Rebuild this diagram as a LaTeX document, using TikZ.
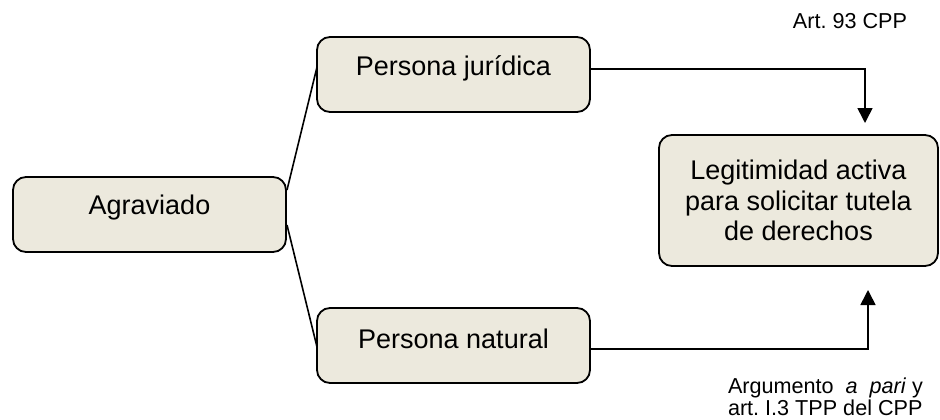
\documentclass[tikz,border=0pt]{standalone}
\usepackage{fontspec}
\setmainfont{Liberation Sans}
\usetikzlibrary{arrows.meta}
\definecolor{boxfill}{HTML}{ECE9DD}
\frenchspacing
\newcommand{\lifted}[1]{\raisebox{6.5pt}[\height][\depth]{#1}}
\begin{document}
\begin{tikzpicture}[x=1pt,y=-1pt,
  box/.style={draw=black, line width=1.8pt, fill=boxfill, rounded corners=13pt, inner sep=0pt, font=\fontsize{27}{30.5}\selectfont, align=center},
  conn/.style={draw=black, line width=1.6pt},
  arr/.style={conn, -{Triangle[length=15pt,width=15pt]}},
  note/.style={font=\fontsize{21.6}{21.5}\selectfont, inner sep=0pt}]
\useasboundingbox (0,0) rectangle (940,420);
\node[box, minimum width=273pt, minimum height=75pt] (ag) at (149.5,214.5) {\lifted{Agraviado}};
\node[box, minimum width=273pt, minimum height=75pt] (pj) at (453.5,74.5) {\lifted{Persona jurídica}};
\node[box, minimum width=273pt, minimum height=75pt] (pn) at (453.5,345.5) {\lifted{Persona natural}};
\node[box, minimum width=279pt, minimum height=131pt] (le) at (798.5,200.5) {Legitimidad activa\\para solicitar tutela\\de derechos};
\coordinate (ag1) at (287,190);
\coordinate (ag2) at (287,225);
\coordinate (pj1) at (317,67);
\coordinate (pn1) at (317,347);
\draw[conn] (ag1) -- (pj1);
\draw[conn] (ag2) -- (pn1);
\coordinate (pjr) at (590,69);
\coordinate (top) at (865,123);
\coordinate (pnr) at (590,349);
\coordinate (bot) at (868,290);
\draw[arr] (pjr) -| (top);
\draw[arr] (pnr) -| (bot);
\node[note] (n1) at (850,21) {Art. 93 CPP};
\node[note, align=left] (n2) at (825.5,397) {\makebox[195pt][l]{Argumento\hfill\textit{a}\hfill\textit{pari} y}\\art. I.3 TPP del CPP};
\end{tikzpicture}
\end{document}
